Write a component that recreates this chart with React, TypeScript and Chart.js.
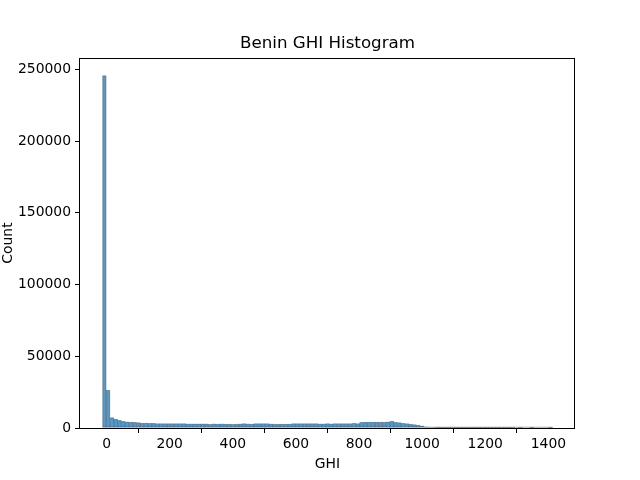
import React, { useEffect, useRef } from 'react';
import { Chart, registerables } from 'chart.js';

Chart.register(...registerables);

// histogram bins span the data range
const GHI_MIN = -12.9;
const GHI_MAX = 1413;

const counts = [
  245600, 26500, 7200, 6200, 5300, 4700, 4300, 4100, 3900, 3700, 3500, 3400, 3300, 3200, 3150,
  3100, 3100, 3050, 3050, 3000, 3000,
  3000, 2950, 2950, 2900, 2900, 2900, 2850,
  2600, 2900, 2700, 2950, 2650,
  2700, 2600, 2650, 2900, 3000, 2950,
  2700, 3000, 3050, 3000, 3050, 2950,
  2800, 2700, 2650, 2700, 2750,
  3000, 3050, 3050, 3100, 3000, 3050, 3000,
  2950, 2950, 3000, 2950, 3000, 3000, 3000,
  3050, 3100, 3300, 3050,
  4000, 4100, 4100, 4150, 4100, 4200, 4200, 4300,
  4900, 4000, 3700, 3300, 3000, 2800, 2300, 2000, 1500, 900, 500, 150,
  60, 30, 20, 12, 8, 6, 5, 4, 3, 3, 2, 2, 2, 1, 1, 1, 1, 1, 1, 1, 1, 0, 1, 0, 0, 1, 0, 0, 0, 0, 1,
];

const binWidth = (GHI_MAX - GHI_MIN) / counts.length;
const binCenters = counts.map((_, i) => GHI_MIN + binWidth * (i + 0.5));

const xTicks = [0, 200, 400, 600, 800, 1000, 1200, 1400];
const yTicks = [0, 50000, 100000, 150000, 200000, 250000];

const FONT = "'DejaVu Sans', sans-serif";

const framePlugin = {
  id: 'frame',
  afterDraw(chart: Chart) {
    const { ctx, chartArea } = chart;
    ctx.save();
    ctx.strokeStyle = '#000';
    ctx.lineWidth = 1;
    ctx.strokeRect(
      Math.round(chartArea.left) - 0.5,
      Math.round(chartArea.top) + 0.5,
      Math.round(chartArea.right - chartArea.left),
      Math.round(chartArea.bottom - chartArea.top)
    );
    ctx.restore();
  },
};

// matplotlib leaves a faint edge line along the baseline for the empty bins
const baselinePlugin = {
  id: 'baseline',
  afterDatasetsDraw(chart: Chart) {
    const { ctx, scales } = chart;
    const x0 = scales.x.getPixelForValue(GHI_MIN);
    const x1 = scales.x.getPixelForValue(GHI_MAX);
    const y = scales.y.getPixelForValue(0);
    ctx.save();
    ctx.strokeStyle = 'rgba(0, 0, 0, 0.2)';
    ctx.lineWidth = 1;
    ctx.beginPath();
    ctx.moveTo(x0, y - 1);
    ctx.lineTo(x1, y - 1);
    ctx.stroke();
    ctx.restore();
  },
};

const App = () => {
  const canvasRef = useRef<HTMLCanvasElement>(null);

  useEffect(() => {
    if (!canvasRef.current) return;
    Chart.defaults.font.family = FONT;
    Chart.defaults.color = '#000';

    const chart = new Chart(canvasRef.current, {
      type: 'bar',
      data: {
        datasets: [
          {
            data: binCenters.map((x, i) => ({ x, y: counts[i] })),
            backgroundColor: 'rgba(31, 119, 180, 0.75)',
            borderColor: 'rgba(0, 0, 0, 0.35)',
            // near-empty bins are thinner than a pixel, so skip their edges
            borderWidth: (c: any) => (c.raw && c.raw.y < 100 ? 0 : 0.5),
            barPercentage: 1,
            categoryPercentage: 1,
          },
        ],
      },
      options: {
        animation: false,
        responsive: true,
        maintainAspectRatio: false,
        layout: { padding: { top: 0, right: 65, bottom: 0, left: 0 } },
        plugins: {
          legend: { display: false },
          tooltip: { enabled: false },
          title: {
            display: true,
            text: 'Benin GHI Histogram',
            fullSize: false,
            color: '#000',
            font: { size: 16.7, weight: 'normal', family: FONT },
            padding: { top: 34, bottom: 4 },
          },
        },
        scales: {
          x: {
            type: 'linear',
            min: -84.2,
            max: 1484.3,
            offset: false,
            afterFit: (scale: any) => {
              scale.height = 52;
            },
            afterBuildTicks: (scale: any) => {
              scale.ticks = xTicks.map((value) => ({ value }));
            },
            grid: {
              display: true,
              drawOnChartArea: false,
              drawTicks: true,
              tickLength: 5,
              color: '#000',
            },
            border: { display: false },
            ticks: {
              font: { size: 13.9, family: FONT },
              color: '#000',
              padding: 3,
              maxRotation: 0,
              callback: (v: any) => String(v),
            },
            title: {
              display: true,
              text: 'GHI',
              font: { size: 13.9, family: FONT },
              color: '#000',
              padding: { top: 0, bottom: 7 },
            },
          },
          y: {
            type: 'linear',
            min: 0,
            max: 257880,
            afterFit: (scale: any) => {
              scale.width = 80;
            },
            afterBuildTicks: (scale: any) => {
              scale.ticks = yTicks.map((value) => ({ value }));
            },
            grid: {
              display: true,
              drawOnChartArea: false,
              drawTicks: true,
              tickLength: 5,
              color: '#000',
            },
            border: { display: false },
            ticks: {
              font: { size: 13.9, family: FONT },
              color: '#000',
              padding: 4,
              callback: (v: any) => String(v),
            },
            title: {
              display: true,
              text: 'Count',
              font: { size: 13.9, family: FONT },
              color: '#000',
              padding: { top: 0, bottom: 0 },
            },
          },
        },
      },
      plugins: [baselinePlugin, framePlugin],
    });

    return () => {
      chart.destroy();
    };
  }, []);

  return (
    <div style={{ position: 'absolute', left: 0, top: 0, width: 640, height: 480, background: '#fff' }}>
      <canvas ref={canvasRef}></canvas>
    </div>
  );
};

export default App;
